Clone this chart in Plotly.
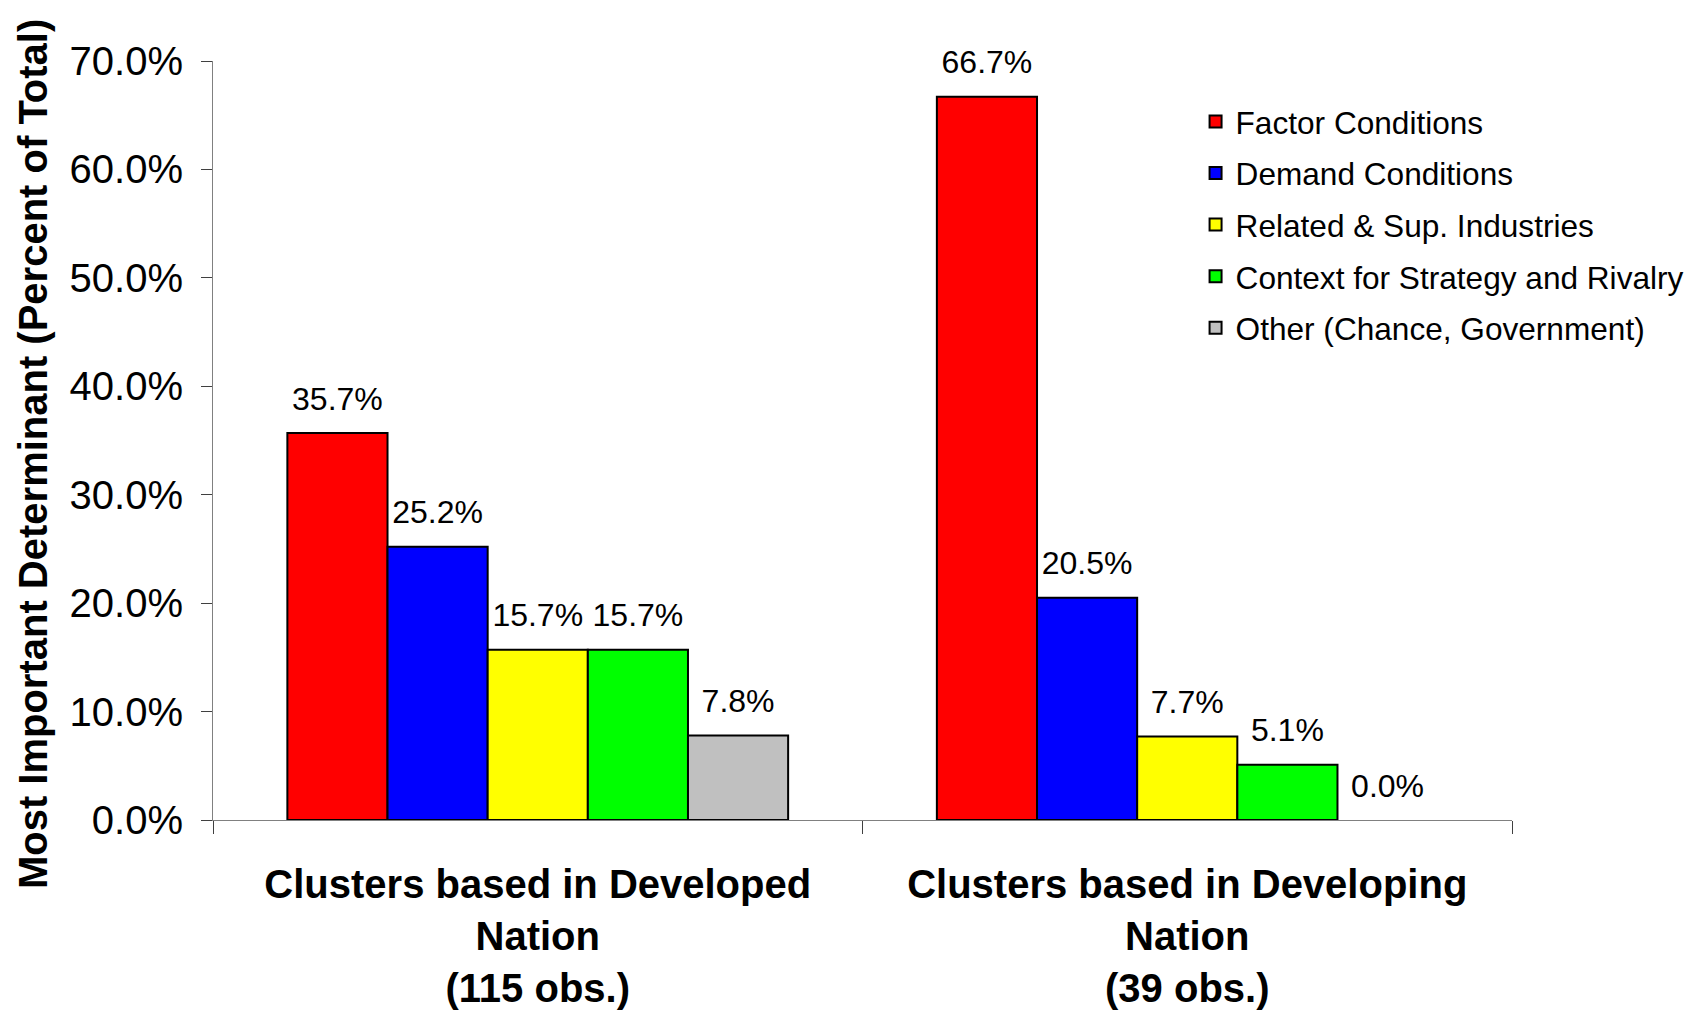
import plotly.graph_objects as go

FONT = "Liberation Sans, Arial, sans-serif"

categories = [
    "Clusters based in Developed<br>Nation<br>(115 obs.)",
    "Clusters based in Developing<br>Nation<br>(39 obs.)",
]

series_names = [
    "Factor Conditions",
    "Demand Conditions",
    "Related & Sup. Industries",
    "Context for Strategy and Rivalry",
    "Other (Chance, Government)",
]

factor_conditions = [0.357, 0.667]
demand_conditions = [0.252, 0.205]
related_industries = [0.157, 0.077]
context_strategy = [0.157, 0.051]
other_chance_gov = [0.078, 0.000]

series_values = [
    factor_conditions,
    demand_conditions,
    related_industries,
    context_strategy,
    other_chance_gov,
]

COLORS = ["#FF0000", "#0000FF", "#FFFF00", "#00FF00", "#C0C0C0"]
GAP = 0.229

fig = go.Figure()
for i, (name, values, color) in enumerate(zip(series_names, series_values, COLORS)):
    fig.add_trace(
        go.Bar(
            x=categories,
            y=values,
            name=name,
            legendgroup=name,
            offsetgroup=f"g{i}",
            marker=dict(
                color=color,
                # no outline on zero-height bars
                line=dict(color="black", width=[2 if v > 0 else 0 for v in values]),
            ),
            hoverinfo="skip",
        )
    )

# value labels: invisible markers (for the offset) plus text, grouped like the bars
for i, (name, values) in enumerate(zip(series_names, series_values)):
    fig.add_trace(
        go.Scatter(
            x=categories,
            y=values,
            mode="markers+text",
            offsetgroup=f"g{i}",
            marker=dict(size=23, opacity=0, color="white"),
            text=[f"{v:.1%}" for v in values],
            textposition="top center",
            textfont=dict(family=FONT, size=32, color="black"),
            cliponaxis=False,
            showlegend=False,
            hoverinfo="skip",
        )
    )

fig.add_annotation(
    text="<b>Most Important Determinant (Percent of Total)</b>",
    xref="paper",
    yref="paper",
    x=-0.1386,
    y=0.482,
    xanchor="center",
    yanchor="middle",
    textangle=-90,
    showarrow=False,
    font=dict(family=FONT, size=40, color="black"),
)

fig.update_layout(
    width=1700,
    height=1016,
    barmode="group",
    bargap=GAP,
    bargroupgap=0,
    scattermode="group",
    scattergap=GAP,
    plot_bgcolor="white",
    paper_bgcolor="white",
    font=dict(family=FONT, color="black"),
    margin=dict(l=205, r=196, t=53, b=204),
    legend=dict(
        x=0.7564,
        y=0.956,
        xanchor="left",
        yanchor="top",
        font=dict(family=FONT, size=31.6, color="black"),
        bgcolor="rgba(0,0,0,0)",
        tracegroupgap=7.5,
        traceorder="grouped",
    ),
    xaxis=dict(
        showline=True,
        linecolor="#808080",
        linewidth=1,
        ticks="outside",
        tickson="boundaries",
        ticklen=13,
        tickcolor="#404040",
        tickfont=dict(family=FONT, size=40, color="black", weight="bold"),
        ticklabelstandoff=29,
        showgrid=False,
    ),
    yaxis=dict(
        range=[0, 0.7],
        dtick=0.1,
        tickformat=".1%",
        showline=True,
        linecolor="#808080",
        linewidth=1,
        ticks="outside",
        ticklen=11,
        tickcolor="#404040",
        tickfont=dict(family=FONT, size=40, color="black"),
        ticklabelstandoff=10,
        showgrid=False,
        zeroline=False,
    ),
)

fig.write_html("out.html")
